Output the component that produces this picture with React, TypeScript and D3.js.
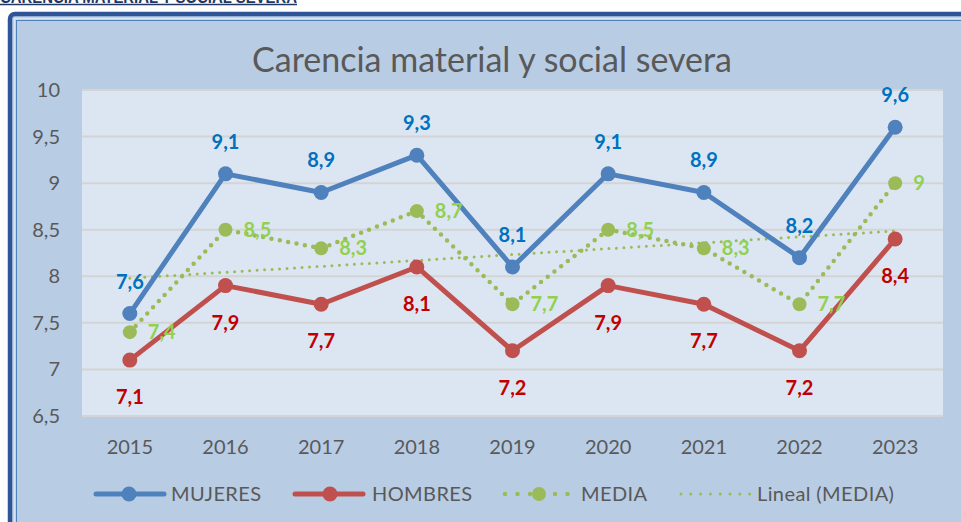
import React from "react";
import * as d3 from "d3";

const years = ["2015", "2016", "2017", "2018", "2019", "2020", "2021", "2022", "2023"];
const mujeres = [7.6, 9.1, 8.9, 9.3, 8.1, 9.1, 8.9, 8.2, 9.6];
const hombres = [7.1, 7.9, 7.7, 8.1, 7.2, 7.9, 7.7, 7.2, 8.4];
const media = [7.4, 8.5, 8.3, 8.7, 7.7, 8.5, 8.3, 7.7, 9];
const yTicks = [6.5, 7, 7.5, 8, 8.5, 9, 9.5, 10];

const W = 961, H = 522;
const FONT = "Lato, 'Open Sans', sans-serif";
const fmt = (v: number) => String(v).replace(".", ",");

export default function App() {
  const x = d3.scaleBand<string>().domain(years).range([82, 943]);
  const y = d3.scaleLinear().domain([6.5, 10]).range([416, 90]);
  const cx = (i: number) => (x(years[i]) as number) + x.bandwidth() / 2;

  const line = d3.line<number>().x((_, i) => cx(i)).y((d) => y(d));

  // linear trend of MEDIA
  const xs = media.map((_, i) => i + 1);
  const mx = d3.mean(xs) as number;
  const my = d3.mean(media) as number;
  const slope = d3.sum(xs.map((xi, i) => (xi - mx) * (media[i] - my))) / d3.sum(xs.map((xi) => (xi - mx) ** 2));
  const trend = xs.map((xi) => my + slope * (xi - mx));

  const blue = "#4F81BD", red = "#C0504D", green = "#9BBB59";
  const blueL = "#0070C0", redL = "#C00000", greenL = "#92D050";

  return (
    <svg width={W} height={H} style={{ position: "absolute", left: 0, top: 0 }} fontFamily={FONT}>
      <rect width={W} height={H} fill="#ffffff" />
      {/* cut-off heading */}
      <text x={0} y={3} fontSize={16} fontWeight="bold" fill="#1F3864" fontFamily="'Liberation Sans', sans-serif" textLength={297} lengthAdjust="spacingAndGlyphs">
        CARENCIA MATERIAL Y SOCIAL SEVERA
      </text>
      <line x1={0} x2={297} y1={4.5} y2={4.5} stroke="#1F3864" strokeWidth={1.5} />
      {/* frame */}
      <rect x={10} y={14} width={W + 20} height={H + 20} rx={5} fill="#B8CCE4" stroke="#2F5597" strokeWidth={4.5} />
      <rect x={14.5} y={18.5} width={W + 20} height={H + 20} fill="none" stroke="#DCE6F2" strokeWidth={1.5} />
      <rect x={16.5} y={20.5} width={W + 20} height={H + 20} fill="none" stroke="#4F81BD" strokeWidth={1} />

      {/* title */}
      <text x={492} y={72} textAnchor="middle" fontSize={34} fill="#595959">
        Carencia material y social severa
      </text>

      {/* plot area */}
      <rect x={82} y={89} width={861} height={327} fill="#DCE6F2" />
      {yTicks.map((t) => (
        <line key={t} x1={82} x2={943} y1={y(t)} y2={y(t)} stroke="#D4D4D4" strokeWidth={2} />
      ))}
      {yTicks.map((t) => (
        <text key={"l" + t} x={60} y={y(t) + 7} textAnchor="end" fontSize={20} fill="#595959">
          {fmt(t)}
        </text>
      ))}
      {years.map((yr, i) => (
        <text key={yr} x={cx(i)} y={454} textAnchor="middle" fontSize={20} fill="#595959">
          {yr}
        </text>
      ))}

      {/* trend */}
      <path d={line(trend) as string} fill="none" stroke={green} strokeWidth={3} strokeDasharray="0 7.5" strokeLinecap="round" />

      {/* media */}
      <path d={line(media) as string} fill="none" stroke={green} strokeWidth={4.5} strokeDasharray="0 8.5" strokeLinecap="round" />
      {media.map((v, i) => (
        <circle key={"m" + i} cx={cx(i)} cy={y(v)} r={7} fill={green} />
      ))}

      {/* hombres */}
      <path d={line(hombres) as string} fill="none" stroke={red} strokeWidth={5} strokeLinejoin="round" />
      {hombres.map((v, i) => (
        <circle key={"h" + i} cx={cx(i)} cy={y(v)} r={7.5} fill={red} />
      ))}

      {/* mujeres */}
      <path d={line(mujeres) as string} fill="none" stroke={blue} strokeWidth={5} strokeLinejoin="round" />
      {mujeres.map((v, i) => (
        <circle key={"w" + i} cx={cx(i)} cy={y(v)} r={7.5} fill={blue} />
      ))}

      {/* labels */}
      {mujeres.map((v, i) => (
        <text key={"wl" + i} x={cx(i)} y={y(v) - 25} textAnchor="middle" fontSize={20} fontWeight="bold" fill={blueL}>
          {fmt(v)}
        </text>
      ))}
      {hombres.map((v, i) => (
        <text key={"hl" + i} x={cx(i)} y={y(v) + 44} textAnchor="middle" fontSize={20} fontWeight="bold" fill={redL}>
          {fmt(v)}
        </text>
      ))}
      {media.map((v, i) => (
        <text key={"ml" + i} x={cx(i) + 18} y={y(v) + 7} textAnchor="start" fontSize={20} fontWeight="bold" fill={greenL}>
          {fmt(v)}
        </text>
      ))}

      {/* legend */}
      <g>
        <line x1={96} x2={164} y1={494} y2={494} stroke={blue} strokeWidth={5} strokeLinecap="round" />
        <circle cx={129} cy={494} r={7.5} fill={blue} />
        <text x={171} y={501} fontSize={20} letterSpacing={0.4} fill="#595959">MUJERES</text>

        <line x1={295} x2={363} y1={494} y2={494} stroke={red} strokeWidth={5} strokeLinecap="round" />
        <circle cx={330} cy={494} r={7.5} fill={red} />
        <text x={372} y={501} fontSize={20} letterSpacing={0.4} fill="#595959">HOMBRES</text>

        <line x1={505} x2={570} y1={494} y2={494} stroke={green} strokeWidth={4.5} strokeDasharray="0 12.5" strokeLinecap="round" />
        <circle cx={539} cy={494} r={7} fill={green} />
        <text x={581} y={501} fontSize={20} letterSpacing={0.4} fill="#595959">MEDIA</text>

        <line x1={681} x2={750} y1={494} y2={494} stroke={green} strokeWidth={3} strokeDasharray="0 9.8" strokeLinecap="round" />
        <text x={757} y={501} fontSize={20} letterSpacing={0.4} fill="#595959">Lineal (MEDIA)</text>
      </g>
    </svg>
  );
}
